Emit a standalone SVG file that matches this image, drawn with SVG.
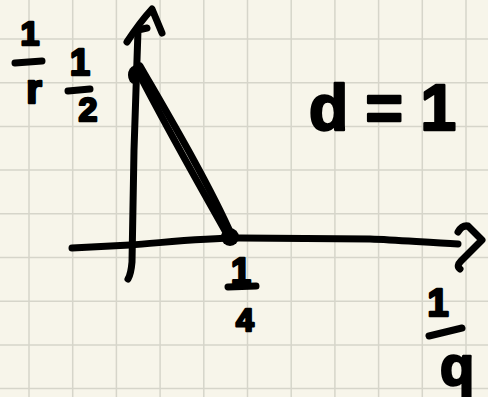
<svg xmlns="http://www.w3.org/2000/svg" width="488" height="397" viewBox="0 0 488 397">
<style>
.grid{stroke:#d6d5ca;stroke-width:1.5;fill:none}
.ink{stroke:#000;stroke-width:7;fill:none;stroke-linecap:round;stroke-linejoin:round}
.t{font-family:"Liberation Sans",Arial,sans-serif;font-weight:bold;fill:#000;stroke:#000;stroke-width:2.5;stroke-linejoin:round;text-anchor:middle}
</style>
<rect width="488" height="397" fill="#f7f5ea"/>
<path class="grid" d="M29,0V397M72.7,0V397M116.4,0V397M160.1,0V397M203.8,0V397M247.5,0V397M291.2,0V397M334.9,0V397M378.6,0V397M422.3,0V397M466,0V397M0,39H488M0,82.7H488M0,126.4H488M0,170.1H488M0,213.8H488M0,257.5H488M0,301.2H488M0,344.9H488M0,388.6H488"/>
<g id="connectors">
<g id="y-axis">
<path class="ink" d="M128,279 Q131,274 132,262 L134,150 L138,30 L147,28"/>
<path class="ink" d="M127,42 Q140,22 152,9 L162,33"/>
</g>
<g id="x-axis">
<path class="ink" d="M72,248 L130,245 C160,243 200,238 240,238 L370,239 C400,240 430,243 458,244"/>
<path class="ink" d="M458,232 Q462,225 468,226 L482,240 L461,261 Q456,266 460,269"/>
</g>
<g id="line">
<path class="ink" d="M136,68 C160,115 194,176 228,236"/>
<path class="ink" d="M140,66 C170,118 208,182 232,236"/>
</g>
</g>
<g id="peak"><ellipse cx="134" cy="75" rx="6" ry="9"/></g>
<g id="foot"><circle cx="230" cy="237" r="9"/></g>
<g id="label-1r">
<text class="t" x="30" y="45" font-size="34">1</text>
<path class="ink" d="M15,63 L42,61"/>
<text class="t" x="34" y="103" font-size="40">r</text>
</g>
<g id="label-12">
<text class="t" x="80" y="75" font-size="36">1</text>
<path class="ink" d="M68,91 L90,89"/>
<text class="t" x="88" y="121" font-size="34">2</text>
</g>
<g id="label-d1">
<text class="t" x="309" y="130" font-size="64" style="text-anchor:start" textLength="147" lengthAdjust="spacing">d=1</text>
</g>
<g id="label-14">
<text class="t" x="241" y="284" font-size="36">1</text>
<path class="ink" d="M228,287 L256,286"/>
<text class="t" x="245" y="331" font-size="32">4</text>
</g>
<g id="label-1q">
<text class="t" x="438" y="316" font-size="38">1</text>
<path class="ink" d="M429,336 L462,328"/>
<text class="t" x="457" y="385" font-size="56">q</text>
</g>
</svg>
